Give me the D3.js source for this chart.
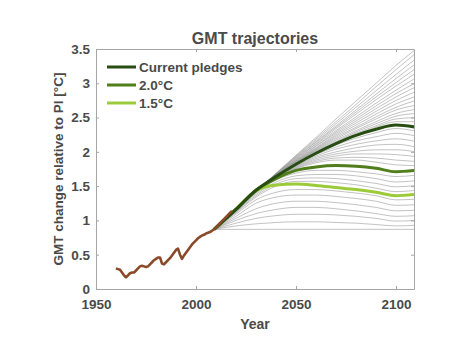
<!DOCTYPE html>
<html>
<head>
<meta charset="utf-8">
<script src="https://cdn.jsdelivr.net/npm/d3@7"></script>
<style>
  body { margin: 0; background: #fff; }
  text { font-family: "Liberation Sans", Arial, sans-serif; font-weight: bold; fill: #4a4a4a; }
</style>
</head>
<body>
<svg id="chart" width="466" height="349"></svg>
<script>
// sample years for the scenario curves
var years = [2009, 2020, 2030, 2040, 2050, 2060, 2070, 2080, 2090, 2100, 2110];

// grey fan of trajectories (top to bottom)
var greyLines = [
  [0.87,1.16,1.42,1.69,1.95,2.21,2.48,2.74,3.00,3.26,3.50],
  [0.87,1.16,1.43,1.68,1.94,2.19,2.44,2.69,2.95,3.20,3.44],
  [0.87,1.16,1.43,1.68,1.93,2.17,2.41,2.65,2.89,3.13,3.36],
  [0.87,1.16,1.43,1.68,1.92,2.15,2.38,2.61,2.84,3.07,3.29],
  [0.87,1.16,1.43,1.67,1.91,2.14,2.36,2.58,2.80,3.01,3.22],
  [0.87,1.16,1.43,1.67,1.90,2.12,2.34,2.55,2.76,2.96,3.15],
  [0.87,1.16,1.43,1.67,1.89,2.11,2.31,2.51,2.71,2.90,3.08],
  [0.87,1.16,1.43,1.66,1.88,2.09,2.29,2.48,2.67,2.85,3.01],
  [0.87,1.16,1.43,1.66,1.87,2.08,2.27,2.45,2.63,2.80,2.95],
  [0.87,1.16,1.43,1.66,1.87,2.06,2.25,2.42,2.59,2.75,2.88],
  [0.87,1.16,1.43,1.66,1.86,2.05,2.23,2.39,2.55,2.70,2.81],
  [0.87,1.16,1.43,1.65,1.85,2.04,2.21,2.36,2.51,2.65,2.75],
  [0.87,1.16,1.43,1.65,1.85,2.03,2.19,2.34,2.48,2.61,2.68],
  [0.87,1.16,1.43,1.65,1.84,2.02,2.17,2.31,2.44,2.56,2.62],
  [0.87,1.16,1.43,1.65,1.84,2.01,2.15,2.29,2.41,2.52,2.56],
  [0.87,1.16,1.43,1.64,1.83,2.00,2.14,2.27,2.38,2.48,2.50],
  [0.87,1.16,1.43,1.64,1.83,1.99,2.13,2.25,2.36,2.44,2.44],
  [0.87,1.16,1.43,1.64,1.82,1.97,2.10,2.20,2.28,2.34,2.30],
  [0.87,1.16,1.43,1.63,1.81,1.96,2.07,2.16,2.22,2.27,2.23],
  [0.87,1.16,1.43,1.63,1.80,1.94,2.04,2.11,2.16,2.19,2.15],
  [0.87,1.16,1.42,1.62,1.79,1.92,2.00,2.06,2.10,2.11,2.07],
  [0.87,1.15,1.42,1.62,1.78,1.90,1.97,2.01,2.03,2.03,2.00],
  [0.87,1.15,1.42,1.61,1.77,1.88,1.94,1.97,1.97,1.96,1.93],
  [0.87,1.15,1.41,1.60,1.76,1.86,1.91,1.92,1.91,1.88,1.86],
  [0.87,1.15,1.41,1.60,1.75,1.84,1.88,1.88,1.85,1.81,1.80],
  [0.87,1.14,1.40,1.59,1.69,1.73,1.73,1.71,1.68,1.64,1.66],
  [0.87,1.13,1.38,1.56,1.65,1.67,1.67,1.65,1.61,1.56,1.58],
  [0.87,1.12,1.36,1.53,1.61,1.62,1.61,1.58,1.54,1.49,1.51],
  [0.87,1.11,1.34,1.50,1.57,1.57,1.55,1.52,1.47,1.42,1.44],
  [0.87,1.09,1.30,1.41,1.45,1.45,1.43,1.40,1.36,1.30,1.31],
  [0.87,1.06,1.25,1.34,1.37,1.37,1.35,1.32,1.28,1.22,1.23],
  [0.87,1.03,1.17,1.25,1.28,1.28,1.26,1.23,1.19,1.14,1.15],
  [0.87,1.00,1.10,1.16,1.19,1.19,1.17,1.14,1.10,1.06,1.07],
  [0.87,0.96,1.03,1.07,1.09,1.09,1.08,1.06,1.03,0.99,1.00],
  [0.87,0.92,0.95,0.97,0.98,0.98,0.97,0.96,0.94,0.92,0.93],
  [0.87,0.87,0.87,0.87,0.87,0.87,0.87,0.87,0.87,0.87,0.87]
];

// highlighted scenarios
var pledges = [0.87,1.16,1.44,1.64,1.82,1.98,2.12,2.24,2.33,2.39,2.36];
var deg20   = [0.87,1.16,1.44,1.61,1.73,1.78,1.80,1.79,1.76,1.71,1.73];
var deg15   = [0.87,1.17,1.43,1.515,1.53,1.51,1.48,1.45,1.41,1.36,1.38];

// observed record
var histYears = [1960,1961,1962,1963,1964,1965,1966,1967,1968,1969,1970,1971,1972,1973,1974,1975,1976,1977,1978,1979,
  1980,1981,1982,1983,1984,1985,1986,1987,1988,1989,1990,1991,1992,1993,1994,1995,1996,1997,1998,1999,
  2000,2001,2002,2003,2004,2005,2006,2007,2008,2009,2010,2012,2014,2016,2018];
var histValues = [0.30,0.29,0.28,0.24,0.20,0.17,0.20,0.23,0.24,0.24,0.27,0.30,0.33,0.34,0.33,0.32,0.33,0.36,0.39,0.42,
  0.44,0.46,0.46,0.37,0.36,0.39,0.42,0.45,0.49,0.53,0.57,0.59,0.50,0.44,0.49,0.53,0.57,0.61,0.65,0.68,
  0.71,0.74,0.76,0.78,0.79,0.81,0.82,0.83,0.85,0.87,0.90,0.96,1.02,1.08,1.14];

var xTicks = [1950, 2000, 2050, 2100];
var yTicks = [0, 0.5, 1, 1.5, 2, 2.5, 3, 3.5];

var legendNames = ["Current pledges", "2.0\u00B0C", "1.5\u00B0C"];
var legendColors = ["#284d12", "#4f7e1a", "#9ccb3a"];

var svg = d3.select("#chart");
var pLeft = 96, pRight = 414, pTop = 49, pBottom = 289;

var x = d3.scaleLinear().domain([1950, 2109]).range([pLeft, pRight]);
var y = d3.scaleLinear().domain([0, 3.5]).range([pBottom, pTop]);

svg.append("defs").append("clipPath").attr("id", "plotclip")
  .append("rect").attr("x", pLeft).attr("y", pTop)
  .attr("width", pRight - pLeft).attr("height", pBottom - pTop);

var plot = svg.append("g").attr("clip-path", "url(#plotclip)");

var line = d3.line()
  .x(function (d, i) { return x(years[i]); })
  .y(function (d) { return y(d); })
  .curve(d3.curveMonotoneX);

plot.selectAll(".grey").data(greyLines).enter().append("path")
  .attr("class", "grey")
  .attr("d", line)
  .attr("fill", "none")
  .attr("stroke", "#8c8c8c")
  .attr("stroke-opacity", 0.75)
  .attr("stroke-width", 0.7);

// draw 1.5 first so pledges sit on top
var colored = [deg15, deg20, pledges];
var coloredCols = [legendColors[2], legendColors[1], legendColors[0]];
plot.selectAll(".scen").data(colored).enter().append("path")
  .attr("class", "scen")
  .attr("d", line)
  .attr("fill", "none")
  .attr("stroke", function (d, i) { return coloredCols[i]; })
  .attr("stroke-width", 3);

var histLine = d3.line()
  .x(function (d, i) { return x(histYears[i]); })
  .y(function (d) { return y(d); });

plot.append("path")
  .attr("d", histLine(histValues))
  .attr("fill", "none")
  .attr("stroke", "#8a4a2a")
  .attr("stroke-width", 2.6)
  .attr("stroke-linejoin", "round");

// axes, MATLAB style box with inward ticks
var axisCol = "#a6a6a6";
function styleAxis(g) {
  g.selectAll(".domain").attr("stroke", axisCol);
  g.selectAll(".tick line").attr("stroke", axisCol);
  g.selectAll(".tick text").style("font-size", "13.5px").style("font-family", "'Liberation Sans', Arial, sans-serif")
    .style("font-weight", "bold").attr("fill", "#4a4a4a");
}

svg.append("g").attr("transform", "translate(0," + pBottom + ")")
  .call(d3.axisBottom(x).tickValues(xTicks).tickFormat(d3.format("d")).tickSizeInner(-3).tickSizeOuter(0).tickPadding(10))
  .call(styleAxis);
svg.append("g").attr("transform", "translate(0," + pTop + ")")
  .call(d3.axisTop(x).tickValues(xTicks).tickFormat("").tickSizeInner(-3).tickSizeOuter(0))
  .call(styleAxis);
svg.append("g").attr("transform", "translate(" + pLeft + ",0)")
  .call(d3.axisLeft(y).tickValues(yTicks).tickFormat(function (d) { return d; }).tickSizeInner(-3).tickSizeOuter(0).tickPadding(6))
  .call(styleAxis);
svg.append("g").attr("transform", "translate(" + pRight + ",0)")
  .call(d3.axisRight(y).tickValues(yTicks).tickFormat("").tickSizeInner(-3).tickSizeOuter(0))
  .call(styleAxis);

// titles
svg.append("text").attr("x", (pLeft + pRight) / 2).attr("y", 44)
  .attr("text-anchor", "middle").style("font-size", "16px").text("GMT trajectories");
svg.append("text").attr("x", (pLeft + pRight) / 2).attr("y", 329)
  .attr("text-anchor", "middle").style("font-size", "14px").text("Year");
svg.append("text")
  .attr("transform", "translate(63," + (pTop + pBottom) / 2 + ") rotate(-90)")
  .attr("text-anchor", "middle").style("font-size", "13.5px")
  .text("GMT change relative to PI [\u00B0C]");

// legend
var leg = svg.append("g");
legendNames.forEach(function (name, i) {
  var ly = 67 + i * 18;
  leg.append("line").attr("x1", 107).attr("x2", 136).attr("y1", ly).attr("y2", ly)
    .attr("stroke", legendColors[i]).attr("stroke-width", 3);
  leg.append("text").attr("x", 139).attr("y", ly + 5)
    .style("font-size", "13.5px").text(name);
});
</script>
</body>
</html>
